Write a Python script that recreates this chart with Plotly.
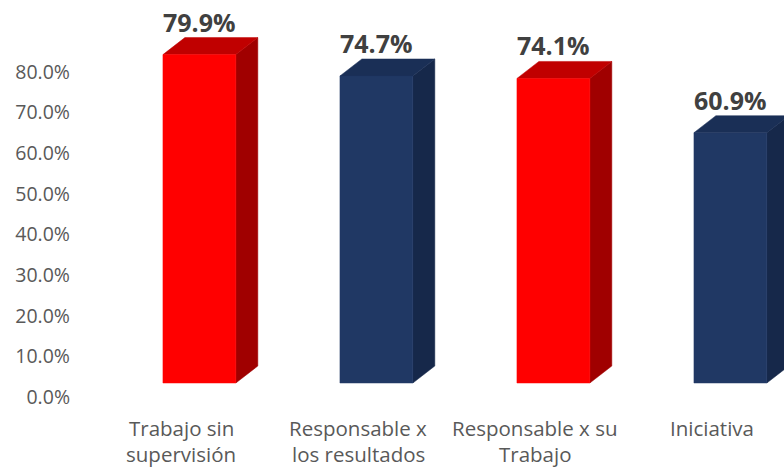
import plotly.graph_objects as go

# Data
categories = ["Trabajo sin<br>supervisión", "Responsable x<br>los resultados",
              "Responsable x su<br>Trabajo", "Iniciativa"]
values = [79.9, 74.7, 74.1, 60.9]
tick_values = [0.0, 0.1, 0.2, 0.3, 0.4, 0.5, 0.6, 0.7, 0.8]

# Face colours per bar: (front, side, top)
palette = [
    ("#FF0000", "#A00000", "#C00000"),
    ("#203864", "#16284A", "#1A2F56"),
    ("#FF0000", "#A00000", "#C00000"),
    ("#203864", "#16284A", "#1A2F56"),
]

# 3D box geometry (in axis units)
left_off = 0.102    # front face left edge relative to category centre
width = 0.412       # front face width
dx = 0.124          # depth offset along x
dy = 4.14           # depth offset along y (in %)

fig = go.Figure()

for i, (v, (c_front, c_side, c_top)) in enumerate(zip(values, palette)):
    xl = i - left_off
    xr = xl + width
    # side face
    fig.add_trace(go.Scatter(
        x=[xr, xr + dx, xr + dx, xr, xr], y=[0, dy, v + dy, v, 0],
        fill="toself", fillcolor=c_side, mode="lines",
        line=dict(width=0.5, color=c_side), hoverinfo="skip", showlegend=False))
    # top face
    fig.add_trace(go.Scatter(
        x=[xl, xl + dx, xr + dx, xr, xl], y=[v, v + dy, v + dy, v, v],
        fill="toself", fillcolor=c_top, mode="lines",
        line=dict(width=0.5, color=c_top), hoverinfo="skip", showlegend=False))
    # front face
    fig.add_trace(go.Scatter(
        x=[xl, xr, xr, xl, xl], y=[0, 0, v, v, 0],
        fill="toself", fillcolor=c_front, mode="lines",
        line=dict(width=0.5, color=c_front), hoverinfo="skip", showlegend=False))
    # value label above the box
    fig.add_annotation(
        x=xl + width / 2, y=v + dy, xref="x", yref="y",
        text=f"<b>{v:.1f}%</b>", showarrow=False, yanchor="bottom", yshift=-3,
        font=dict(family="Open Sans", size=25, color="#404040"))

# Category labels under the boxes, one annotation per text line
for i, cat in enumerate(categories):
    for j, line in enumerate(cat.split("<br>")):
        fig.add_annotation(
            x=i, y=0, xref="x", yref="paper", text=line, showarrow=False,
            yanchor="middle", yshift=-18 - 26 * j,
            font=dict(family="Open Sans", size=20.5, color="#595959"))

# Invisible trace to activate the tick-label axis
fig.add_trace(go.Scatter(x=[0], y=[0], yaxis="y2", mode="markers",
                         marker=dict(opacity=0), hoverinfo="skip", showlegend=False))

fig.update_layout(
    width=784, height=467,
    margin=dict(l=76, r=0, t=0, b=57),
    paper_bgcolor="white", plot_bgcolor="white",
    xaxis=dict(range=[-(181 - 76) / 177, (784 - 181) / 177], visible=False,
               showgrid=False, zeroline=False),
    yaxis=dict(range=[-27 / 4.11, 383 / 4.11], visible=False,
               showgrid=False, zeroline=False),
    yaxis2=dict(range=[-13 / 406.25, 397 / 406.25], overlaying="y", side="left",
                tickvals=tick_values, tickformat=".1%", showgrid=False,
                zeroline=False, showline=False, ticks="", ticklabelstandoff=5,
                tickfont=dict(family="Open Sans", size=19.5, color="#595959")),
)

fig.write_html("out.html")
